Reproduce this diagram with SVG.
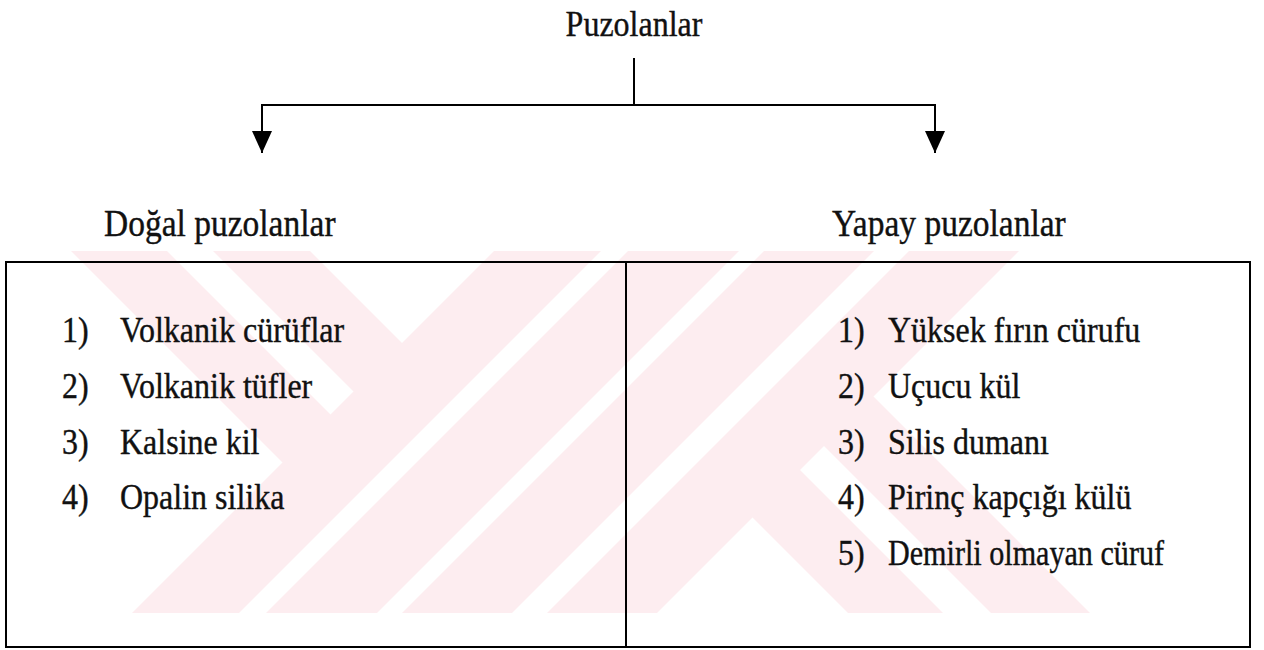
<svg xmlns="http://www.w3.org/2000/svg" width="1264" height="650" viewBox="0 0 1264 650">
  <style>
    text { font-family: "Liberation Serif", "Times New Roman", serif; font-size: 32px; fill: #111; stroke: #111; stroke-width: 0.35px; }
    .lbl { font-size: 33.5px; }
    .ln { stroke: #000; stroke-width: 2; fill: none; }
    .wm { fill: #fdedf0; stroke: none; }
    .box { fill: none; stroke: #000; stroke-width: 2; }
  </style>
  <defs>
    <marker id="arrow" viewBox="0 0 22 20" refX="22" refY="10" markerWidth="22" markerHeight="20" markerUnits="userSpaceOnUse" orient="auto">
      <path d="M0,0 L22,10 L0,20 z" fill="#000"/>
    </marker>
  </defs>
  <rect width="1264" height="650" fill="#fff"/>

  <g id="watermark">
    <polygon class="wm" points="909,251 1019,251 657,613 547,613"/>
    <polygon class="wm" points="764,251 874,251 512,613 402,613"/>
    <polygon class="wm" points="628,251 739,251 377,613 266,613"/>
    <polygon class="wm" points="494,251 601,251 239,613 132,613"/>
    <polygon class="wm" points="71,251 167,251 358,442 310,490"/>
    <polygon class="wm" points="213,251 310,251 429.5,370.5 381,419"/>
    <polygon class="wm" points="838.5,361.5 1090,613 991,613 789,411"/>
    <polygon class="wm" points="785,455 943,613 848,613 737.5,502.5"/>
  </g>

  <g id="connectors">
    <path class="ln" d="M634,58 V105"/>
    <path class="ln" d="M261,105 H936"/>
    <path class="ln" d="M262,105 V153" marker-end="url(#arrow)"/>
    <path class="ln" d="M935,105 V153" marker-end="url(#arrow)"/>
  </g>

  <g id="root">
    <text transform="translate(634,36) scale(1,1.12)" text-anchor="middle">Puzolanlar</text>
  </g>

  <g id="dogal">
    <text class="lbl" transform="translate(104,236) scale(1,1.1)">Doğal puzolanlar</text>
  </g>

  <g id="yapay">
    <text class="lbl" transform="translate(832,236) scale(1,1.1)">Yapay puzolanlar</text>
  </g>

  <g id="table">
    <rect class="box" x="6" y="262" width="1244" height="385"/>
    <line class="ln" x1="626" y1="262" x2="626" y2="647"/>
  </g>

  <g id="dogal-list">
    <text transform="translate(62,342) scale(1,1.12)">1)</text><text transform="translate(120,342) scale(1,1.12)">Volkanik cürüflar</text>
    <text transform="translate(62,398) scale(1,1.12)">2)</text><text transform="translate(120,398) scale(1,1.12)">Volkanik tüfler</text>
    <text transform="translate(62,454) scale(1,1.12)">3)</text><text transform="translate(120,454) scale(1,1.12)">Kalsine kil</text>
    <text transform="translate(62,509) scale(1,1.12)">4)</text><text transform="translate(120,509) scale(1,1.12)">Opalin silika</text>
  </g>

  <g id="yapay-list">
    <text transform="translate(838,342) scale(1,1.12)">1)</text><text transform="translate(888,342) scale(1,1.12)">Yüksek fırın cürufu</text>
    <text transform="translate(838,398) scale(1,1.12)">2)</text><text transform="translate(888,398) scale(1,1.12)">Uçucu kül</text>
    <text transform="translate(838,454) scale(1,1.12)">3)</text><text transform="translate(888,454) scale(1,1.12)">Silis dumanı</text>
    <text transform="translate(838,509) scale(1,1.12)">4)</text><text transform="translate(888,509) scale(1,1.12)">Pirinç kapçığı külü</text>
    <text transform="translate(838,565) scale(1,1.12)">5)</text><text transform="translate(888,565) scale(1,1.12)" textLength="276" lengthAdjust="spacingAndGlyphs">Demirli olmayan cüruf</text>
  </g>
</svg>
